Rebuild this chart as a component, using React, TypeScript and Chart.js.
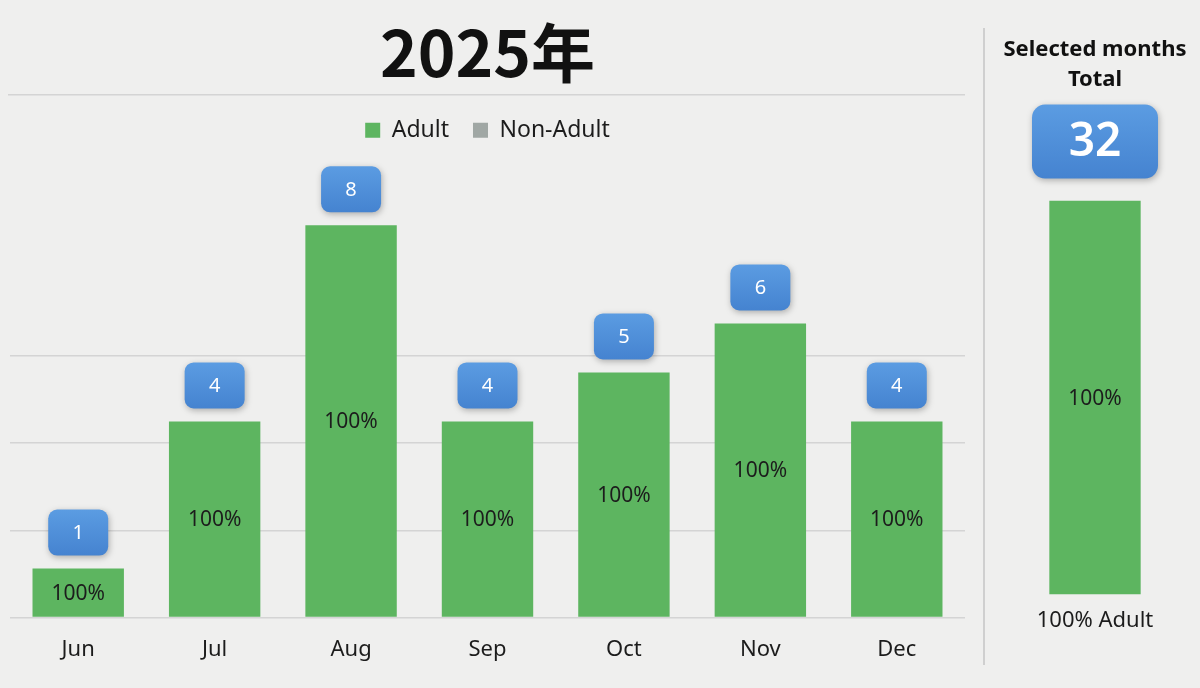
import React, { useEffect, useRef } from 'react';
import { Chart, registerables } from 'chart.js';

Chart.register(...registerables);

const MONTHS = ['Jun', 'Jul', 'Aug', 'Sep', 'Oct', 'Nov', 'Dec'];
const ADULT = [1, 4, 8, 4, 5, 6, 4];
const NON_ADULT = [0, 0, 0, 0, 0, 0, 0];
const Y_GRID = [0, 1.78, 3.56, 5.34];
const Y_MAX = 9.5;
const TITLE = '2025年';
const SIDE_TITLE = ['Selected months', 'Total'];

const TOTALS = ADULT.map((v, i) => v + NON_ADULT[i]);
const SUM_ADULT = ADULT.reduce((a, b) => a + b, 0);
const SUM_TOTAL = TOTALS.reduce((a, b) => a + b, 0);
const SUM_PCT = Math.round((SUM_ADULT / SUM_TOTAL) * 100);

const GREEN = '#5db560';
const GRAY = '#a0a7a4';
const TEXT = '#1c1c1c';
const BG = '#efefee';
const FONT = '"Noto Sans", sans-serif';

// blue rounded value box above each bar, percent inside the bar
const boxLabels = {
  id: 'boxLabels',
  afterDatasetsDraw(chart: any, _args: any, opts: any) {
    const { ctx } = chart;
    const meta = chart.getDatasetMeta(0);
    meta.data.forEach((bar: any, i: number) => {
      const { x, y, base } = bar.getProps(['x', 'y', 'base'], true);
      const adult = opts.adult[i];
      const total = opts.total[i];
      ctx.save();
      ctx.textAlign = 'center';
      ctx.textBaseline = 'middle';
      ctx.fillStyle = TEXT;
      ctx.font = `${opts.pctSize}px ${FONT}`;
      ctx.fillText(`${Math.round((adult / total) * 100)}%`, x, (y + base) / 2 + 1);

      const w = opts.w, h = opts.h;
      const bx = x - w / 2;
      const by = y - opts.gap - h;
      ctx.shadowColor = 'rgba(0,0,0,0.28)';
      ctx.shadowBlur = 6;
      ctx.shadowOffsetX = 1;
      ctx.shadowOffsetY = 2;
      const grad = ctx.createLinearGradient(0, by, 0, by + h);
      grad.addColorStop(0, '#5b9ce2');
      grad.addColorStop(1, '#4583d0');
      ctx.fillStyle = grad;
      ctx.beginPath();
      ctx.roundRect(bx, by, w, h, opts.r);
      ctx.fill();
      ctx.shadowColor = 'transparent';
      ctx.fillStyle = '#ffffff';
      ctx.font = opts.numFont;
      ctx.fillText(String(total), x, by + h / 2 + 1);
      ctx.restore();
    });
  },
};

// separator under the title and the vertical divider at the right edge
const separators = {
  id: 'separators',
  beforeDraw(chart: any) {
    const { ctx, chartArea } = chart;
    const yLine = chart.titleBlock.bottom;
    ctx.save();
    ctx.strokeStyle = '#d4d4d4';
    ctx.lineWidth = 1.5;
    ctx.beginPath();
    ctx.moveTo(chartArea.left - 2, yLine);
    ctx.lineTo(chartArea.right, yLine);
    ctx.stroke();
    ctx.strokeStyle = '#cfcfcf';
    ctx.lineWidth = 2;
    ctx.beginPath();
    ctx.moveTo(chart.width - 1, 28);
    ctx.lineTo(chart.width - 1, 665);
    ctx.stroke();
    ctx.restore();
  },
};

const MainChart: React.FC = () => {
  const canvasRef = useRef<HTMLCanvasElement>(null);
  const chartRef = useRef<Chart | null>(null);

  useEffect(() => {
    if (!canvasRef.current) return;
    chartRef.current?.destroy();

    chartRef.current = new Chart(canvasRef.current, {
      type: 'bar',
      data: {
        labels: MONTHS,
        datasets: [
          { label: 'Adult', data: ADULT, backgroundColor: GREEN, borderWidth: 0 },
          { label: 'Non-Adult', data: NON_ADULT, backgroundColor: GRAY, borderWidth: 0 },
        ],
      },
      options: {
        animation: false,
        responsive: false,
        layout: { padding: { left: 10, right: 20, bottom: 6, top: 0 } },
        datasets: { bar: { categoryPercentage: 1, barPercentage: 0.67 } },
        plugins: {
          title: {
            display: true,
            text: TITLE,
            color: '#111',
            font: { family: '"Noto Sans CJK SC", sans-serif', size: 64, weight: 'bold', lineHeight: 1.2 },
            padding: { top: 14, bottom: 4 },
          },
          legend: {
            position: 'top',
            labels: {
              color: TEXT,
              boxWidth: 15,
              boxHeight: 15,
              padding: 24,
              font: { family: FONT, size: 23 },
            },
          },
          tooltip: { enabled: false },
          boxLabels: { adult: ADULT, total: TOTALS, w: 60, h: 46, gap: 13, r: 9, pctSize: 21, numFont: `20px ${FONT}` },
        } as any,
        scales: {
          x: {
            stacked: true,
            grid: { display: false, drawTicks: false },
            border: { display: false },
            ticks: { color: TEXT, padding: 19, font: { family: FONT, size: 22 } },
          },
          y: {
            stacked: true,
            min: 0,
            max: Y_MAX,
            afterBuildTicks: (scale: any) => {
              scale.ticks = Y_GRID.map(v => ({ value: v }));
            },
            ticks: { display: false },
            grid: { color: '#d4d4d4', lineWidth: 1.5, drawTicks: false },
            border: { display: false },
          },
        },
      },
      plugins: [boxLabels, separators],
    });

    return () => {
      chartRef.current?.destroy();
      chartRef.current = null;
    };
  }, []);

  return <canvas ref={canvasRef} width={985} height={688} style={{ position: 'absolute', left: 0, top: 0 }} />;
};

const SideChart: React.FC = () => {
  const canvasRef = useRef<HTMLCanvasElement>(null);
  const chartRef = useRef<Chart | null>(null);

  useEffect(() => {
    if (!canvasRef.current) return;
    chartRef.current?.destroy();

    chartRef.current = new Chart(canvasRef.current, {
      type: 'bar',
      data: {
        labels: [`${SUM_PCT}% Adult`],
        datasets: [{ label: 'Adult', data: [SUM_ADULT], backgroundColor: GREEN, borderWidth: 0 }],
      },
      options: {
        animation: false,
        responsive: false,
        layout: { padding: { left: 0, right: 0, bottom: 41, top: 0 } },
        datasets: { bar: { categoryPercentage: 1, barPercentage: 0.435 } },
        plugins: {
          title: {
            display: true,
            text: SIDE_TITLE,
            color: '#111',
            font: { family: FONT, size: 22, weight: 'bold', lineHeight: 1.4 },
            padding: { top: 34, bottom: 105 },
          },
          legend: { display: false },
          tooltip: { enabled: false },
          boxLabels: { adult: [SUM_ADULT], total: [SUM_TOTAL], w: 126, h: 74, gap: 22, r: 13, pctSize: 21, numFont: `600 46px ${FONT}` },
        } as any,
        scales: {
          x: {
            grid: { display: false, drawTicks: false },
            border: { display: false },
            ticks: { color: TEXT, padding: 13, font: { family: FONT, size: 22 } },
          },
          y: {
            display: false,
            min: 0,
            max: SUM_TOTAL,
          },
        },
      },
      plugins: [boxLabels],
    });

    return () => {
      chartRef.current?.destroy();
      chartRef.current = null;
    };
  }, []);

  return <canvas ref={canvasRef} width={210} height={688} style={{ position: 'absolute', left: 990, top: 0 }} />;
};

const App: React.FC = () => {
  useEffect(() => {
    document.body.style.margin = '0';
    document.body.style.background = BG;
  }, []);

  return (
    <div style={{ position: 'relative', width: 1200, height: 688, background: BG, overflow: 'hidden' }}>
      <MainChart />
      <SideChart />
    </div>
  );
};

export default App;
